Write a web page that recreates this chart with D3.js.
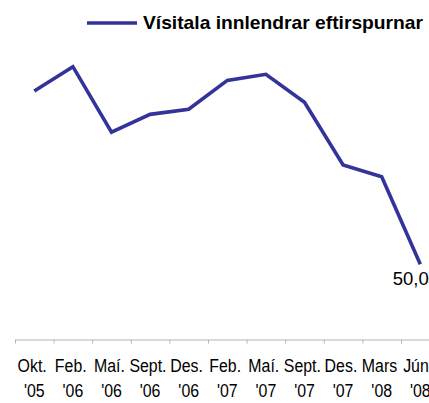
<!DOCTYPE html>
<html>
<head>
<meta charset="utf-8">
<script src="https://cdn.jsdelivr.net/npm/d3@7/dist/d3.min.js"></script>
<style>
  body { margin: 0; background: #fff; }
  svg { display: block; }
  text { font-family: "Liberation Sans", Arial, sans-serif; fill: #000; }
</style>
</head>
<body>
<svg id="chart" width="429" height="403"></svg>
<script>
// categories: month + year (two lines under each point)
const months = ["Okt.", "Feb.", "Maí.", "Sept.", "Des.", "Feb.", "Maí.", "Sept.", "Des.", "Mars", "Jún."];
const years = ["'05", "'06", "'06", "'06", "'06", "'07", "'07", "'07", "'07", "'08", "'08"];
// index values
const values = [165.2, 181.4, 137.8, 149.7, 153.1, 172.3, 176.3, 157.7, 116.0, 108.2, 50.0];
const seriesName = "Vísitala innlendrar eftirspurnar";

const svg = d3.select("#chart");
const axisY = 339.5;
const lineColor = "#333399";

const x = d3.scaleBand()
    .domain(d3.range(months.length))
    .range([15, 439.6])
    .padding(0);

const xTicks = d3.scaleLinear()
    .domain([0, months.length])
    .range([15, 439.6]);

const y = d3.scaleLinear()
    .domain([0, 200])
    .range([axisY, axisY - 200 * 1.504]);

// tick marks sit between the categories
const tickAxis = d3.axisBottom(xTicks)
    .tickValues(d3.range(0, months.length + 1))
    .tickFormat("")
    .tickSize(4)
    .tickSizeOuter(0);

const gTicks = svg.append("g")
    .attr("class", "x-ticks")
    .attr("transform", `translate(0,${axisY})`)
    .call(tickAxis);
gTicks.selectAll("path, line").attr("stroke", "#b4b4b4");

// category labels, two lines each, squeezed horizontally
const labelAxis = d3.axisBottom(x)
    .tickSize(0)
    .tickFormat("");

const gLabels = svg.append("g")
    .attr("class", "x-axis")
    .attr("transform", `translate(0,${axisY})`)
    .call(labelAxis);
gLabels.select(".domain").remove();
gLabels.selectAll(".tick text").each(function (d) {
    const t = d3.select(this)
        .attr("y", null)
        .attr("dy", null)
        .attr("fill", "#000")
        .style("font-size", "18.5px")
        .attr("transform", "scale(0.86,1)");
    t.append("tspan").attr("x", -2.5).attr("y", 33).text(months[d]);
    t.append("tspan").attr("x", 0).attr("y", 57.5).text(years[d]);
});

const line = d3.line()
    .x((d, i) => x(i) + x.bandwidth() / 2)
    .y(d => y(d));

svg.append("path")
    .datum(values)
    .attr("fill", "none")
    .attr("stroke", lineColor)
    .attr("stroke-width", 3.6)
    .attr("stroke-linejoin", "miter")
    .attr("d", line);

// data label on the last point
const last = values.length - 1;
svg.append("text")
    .attr("x", x(last) + x.bandwidth() / 2 + 8.5)
    .attr("y", y(values[last]) + 21)
    .attr("text-anchor", "end")
    .style("font-size", "18.5px")
    .text(d3.format(".1f")(values[last]).replace(".", ","));

// legend
const legend = svg.append("g").attr("class", "legend");
legend.append("line")
    .attr("x1", 87).attr("x2", 137)
    .attr("y1", 23).attr("y2", 23)
    .attr("stroke", lineColor)
    .attr("stroke-width", 3.6);
legend.append("text")
    .attr("x", 143)
    .attr("y", 29)
    .attr("textLength", 280)
    .attr("lengthAdjust", "spacingAndGlyphs")
    .style("font-size", "18.5px")
    .style("font-weight", "bold")
    .text(seriesName);
</script>
</body>
</html>
